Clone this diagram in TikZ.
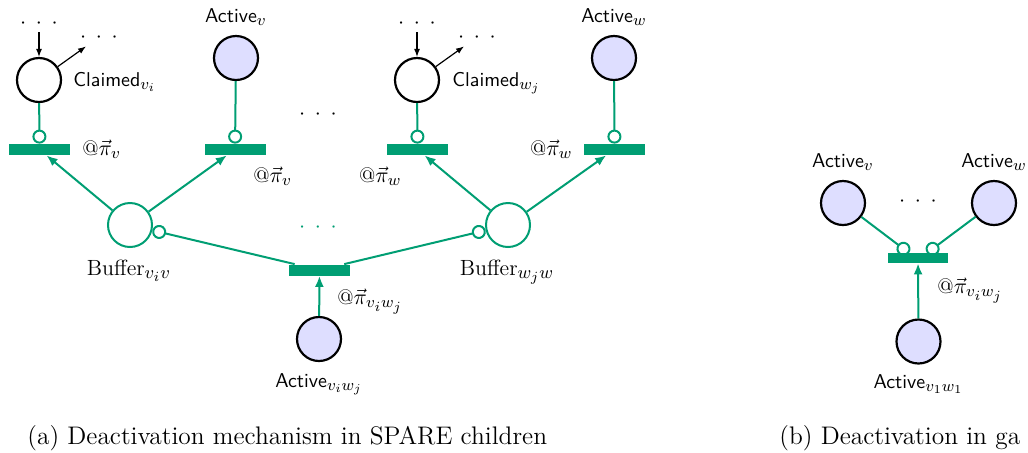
\documentclass[tikz,border=0pt]{standalone}
\usepackage{fontspec}
\usetikzlibrary{arrows.meta}
\definecolor{pgreen}{RGB}{0,158,115}
\definecolor{lav}{RGB}{222,222,255}
% larger script sizes for the indexed labels
\DeclareMathSizes{10}{10}{8}{6.5}
\DeclareMathSizes{10.5}{10.5}{8.4}{6.8}
\DeclareMathSizes{11}{11}{8.8}{7}
% three widely spaced dots
\newcommand\wdots{\ensuremath{{\cdot}\mkern8mu{\cdot}\mkern8mu{\cdot}}}
\begin{document}
\begin{tikzpicture}[x=0.5pt,y=-0.5pt,
  place/.style={circle,draw=black,line width=1.1pt,minimum size=22pt,inner sep=0pt},
  active/.style={place,fill=lav},
  buffer/.style={circle,draw=pgreen,line width=1pt,minimum size=22pt,inner sep=0pt},
  trans/.style={rectangle,fill=pgreen,minimum width=30.5pt,minimum height=5.5pt,inner sep=0pt},
  arc/.style={draw=pgreen,line width=1pt,-{Latex[length=5.5pt,width=4.5pt]}},
  inhib/.style={draw=pgreen,line width=1pt,-{Circle[open,length=7pt,width=7pt]}},
  inhibrev/.style={draw=pgreen,line width=1pt,{Circle[open,length=7pt,width=7pt]}-},
  blackarc/.style={line width=0.6pt,-{Latex[length=4pt,width=3pt]}},
  lbl/.style={font=\sffamily\fontsize{10}{12}\selectfont,inner sep=0pt},
  mlbl/.style={font=\fontsize{10.5}{12}\selectfont,inner sep=0pt},
  rlbl/.style={font=\fontsize{11}{13}\selectfont,inner sep=0pt,anchor=base},
  dotsn/.style={inner sep=2pt,anchor=base,font=\fontsize{11}{13}\selectfont},
  captxt/.style={font=\fontsize{12.7}{15}\selectfont,inner sep=0pt,anchor=base west}
]
\useasboundingbox (0,0) rectangle (1028,452);
\clip (0,0) rectangle (1028,452);

% ---------- (a) ----------
% claimed places with their incoming/outgoing arcs
\node[place] (cl1) at (39,80) {};
\node[lbl,anchor=base west] (cl1l) at (73,86) {Claimed$_{v_i}$};
\node[dotsn] (d1) at (39,28) {\wdots};
\node[dotsn] (d2) at (99,42) {\wdots};
\draw[blackarc] (d1.south) -- (cl1);
\draw[blackarc] (cl1) -- (d2);

\node[place] (cl2) at (417,80) {};
\node[lbl,anchor=base west] (cl2l) at (452,86) {Claimed$_{w_j}$};
\node[dotsn] (d3) at (417,28) {\wdots};
\node[dotsn] (d4) at (477,42) {\wdots};
\draw[blackarc] (d3.south) -- (cl2);
\draw[blackarc] (cl2) -- (d4);

% active places
\node[active] (av) at (236,58) {};
\node[lbl,anchor=base] (avl) at (236,22) {Active$_v$};
\node[active] (aw) at (614,58) {};
\node[lbl,anchor=base] (awl) at (614,22) {Active$_w$};
\node[dotsn] (dm) at (318,119) {\wdots};

% transitions
\node[trans] (t1) at (39.5,149.5) {};
\node[trans] (t2) at (235,149.5) {};
\node[trans] (t3) at (417.5,149.5) {};
\node[trans] (t4) at (614.5,149.5) {};
\node[mlbl,anchor=base west] (t1l) at (82,155) {@$\vec{\pi}_v$};
\node[mlbl,anchor=base west] (t2l) at (253,182) {@$\vec{\pi}_v$};
\node[mlbl,anchor=base east] (t3l) at (402,182) {@$\vec{\pi}_w$};
\node[mlbl,anchor=base east] (t4l) at (573,155) {@$\vec{\pi}_w$};

\draw[inhib] (cl1) -- (t1);
\draw[inhib] (av) -- (t2);
\draw[inhib] (cl2) -- (t3);
\draw[inhib] (aw) -- (t4);

% buffers
\node[buffer] (b1) at (130,225) {};
\node[buffer] (b2) at (508,225) {};
\node[rlbl] (b1l) at (129,275) {Buffer$_{v_i v}$};
\node[rlbl] (b2l) at (507,275) {Buffer$_{w_j w}$};
\draw[arc] (b1) -- (t1);
\draw[arc] (b1) -- (t2);
\draw[arc] (b2) -- (t3);
\draw[arc] (b2) -- (t4);

% deactivating transition
\node[trans] (t5) at (319.5,270) {};
\node[mlbl,anchor=base west] (t5l) at (337,304) {@$\vec{\pi}_{v_i w_j}$};
\node[dotsn,text=pgreen] (dg) at (318,232) {\wdots};
\draw[inhibrev] (b1) -- (t5);
\draw[inhibrev] (b2) -- (t5);
\node[active] (ac) at (319,339) {};
\node[lbl,anchor=base] (acl) at (319,387) {Active$_{v_i w_j}$};
\draw[arc] (ac) -- (t5);

\node[captxt] (capa) at (27,444) {(a) Deactivation mechanism in SPARE children};

% ---------- (b) ----------
\node[active] (bv) at (843,203) {};
\node[lbl,anchor=base] (bvl) at (843,167) {Active$_v$};
\node[active] (bw) at (994,203) {};
\node[lbl,anchor=base] (bwl) at (994,167) {Active$_w$};
\node[dotsn] (db) at (918,206) {\wdots};
\node[trans,minimum width=30pt,minimum height=5pt] (t6) at (918,258) {};
\coordinate (t6a) at (909,253);
\coordinate (t6b) at (927,253);
\draw[inhib] (bv) -- (t6a);
\draw[inhib] (bw) -- (t6b);
\node[active] (bc) at (918.5,341.5) {};
\node[lbl,anchor=base] (bcl) at (918.5,388) {Active$_{v_1 w_1}$};
\draw[arc] (bc) -- (t6);
\node[mlbl,anchor=base west] (t6l) at (937,293) {@$\vec{\pi}_{v_i w_j}$};

\node[captxt] (capb) at (779,444) {(b) Deactivation in ga};
\end{tikzpicture}
\end{document}
